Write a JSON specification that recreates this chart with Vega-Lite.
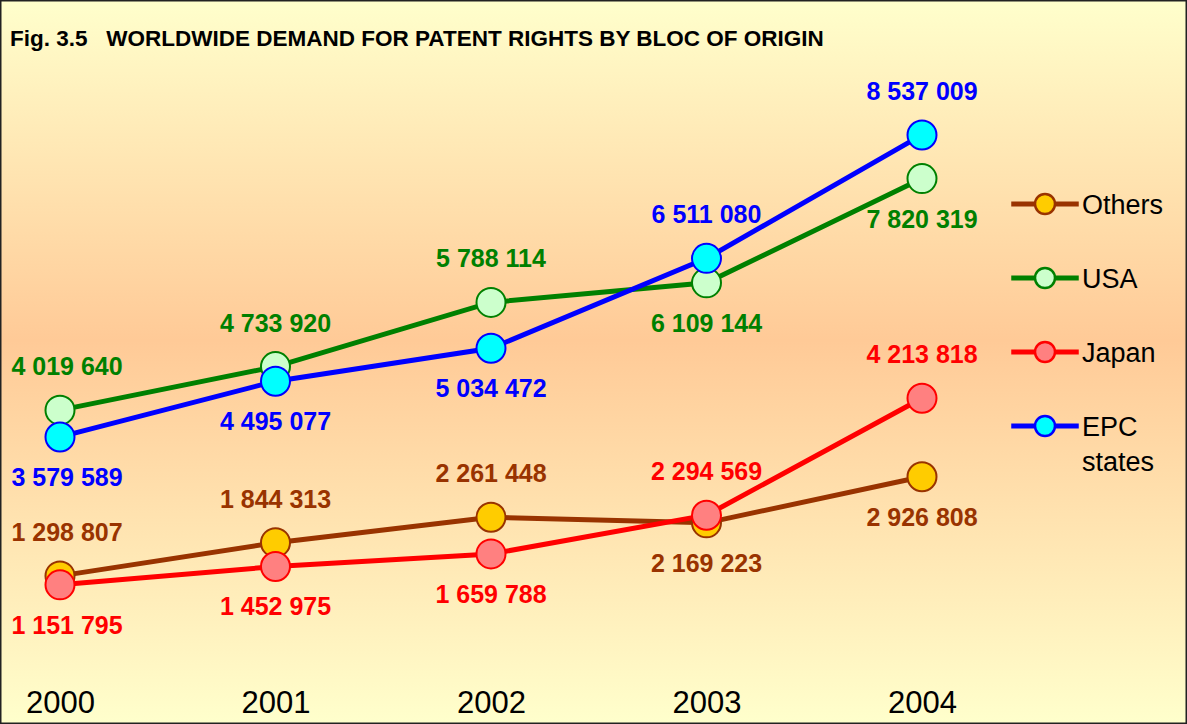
{
  "$schema": "https://vega.github.io/schema/vega-lite/v6.json",
  "width": 1187,
  "height": 724,
  "autosize": {"type": "none"},
  "padding": 0,
  "background": "#FFFFCC",
  "config": {
    "font": "Liberation Sans",
    "view": {
      "fill": {"gradient": "linear", "x1": 0, "y1": 0, "x2": 0, "y2": 1,
        "stops": [{"offset": 0, "color": "#FFFFCC"}, {"offset": 0.47, "color": "#FFCA97"}, {"offset": 1, "color": "#FFFFCC"}]},
      "stroke": "#222222",
      "strokeWidth": 3
    },
    "locale": {"number": {"decimal": ".", "thousands": " ", "grouping": [3], "currency": ["", ""]}},
    "legend": {
      "title": null,
      "orient": "none",
      "legendX": 1031.5,
      "legendY": 190.5,
      "padding": 0,
      "symbolType": "M-3.25,-0.125H-1V0.125H-3.25Z M1,-0.125H3.25V0.125H1Z M1,0A1,1,0,1,1,-1,0A1,1,0,1,1,1,0Z",
      "symbolSize": 400,
      "symbolStrokeWidth": 2.5,
      "labelFontSize": 27,
      "labelFont": "Liberation Sans",
      "labelColor": "#000000",
      "labelOffset": 23.5,
      "rowPadding": 43,
      "labelBaseline": "alphabetic"
    }
  },
  "title": {
    "text": "Fig. 3.5\u00a0\u00a0 WORLDWIDE DEMAND FOR PATENT RIGHTS BY BLOC OF ORIGIN",
    "anchor": "start",
    "frame": "group",
    "orient": "top",
    "offset": -68,
    "dx": 10,
    "fontSize": 22.5,
    "fontWeight": "bold",
    "color": "#000000",
    "baseline": "alphabetic"
  },
  "data": {
    "values": [
      {"series": "Others", "year": 2000, "value": 1298807},
      {"series": "Others", "year": 2001, "value": 1844313},
      {"series": "Others", "year": 2002, "value": 2261448},
      {"series": "Others", "year": 2003, "value": 2169223},
      {"series": "Others", "year": 2004, "value": 2926808},
      {"series": "USA", "year": 2000, "value": 4019640},
      {"series": "USA", "year": 2001, "value": 4733920},
      {"series": "USA", "year": 2002, "value": 5788114},
      {"series": "USA", "year": 2003, "value": 6109144},
      {"series": "USA", "year": 2004, "value": 7820319},
      {"series": "Japan", "year": 2000, "value": 1151795},
      {"series": "Japan", "year": 2001, "value": 1452975},
      {"series": "Japan", "year": 2002, "value": 1659788},
      {"series": "Japan", "year": 2003, "value": 2294569},
      {"series": "Japan", "year": 2004, "value": 4213818},
      {"series": "EPC states", "year": 2000, "value": 3579589},
      {"series": "EPC states", "year": 2001, "value": 4495077},
      {"series": "EPC states", "year": 2002, "value": 5034472},
      {"series": "EPC states", "year": 2003, "value": 6511080},
      {"series": "EPC states", "year": 2004, "value": 8537009}
    ]
  },
  "encoding": {
    "x": {
      "field": "year", "type": "quantitative",
      "scale": {"domain": [1999.7216, 2005.2297], "nice": false, "zero": false},
      "axis": {"values": [2000, 2001, 2002, 2003, 2004], "format": "d", "title": null, "domain": false, "ticks": false, "tickSize": 0, "grid": false,
        "labelFontSize": 31, "labelColor": "#000000", "labelFont": "Liberation Sans", "offset": -21, "labelPadding": 0, "labelBaseline": "middle", "labelFlush": false, "labelOverlap": false}
    },
    "y": {
      "field": "value", "type": "quantitative",
      "scale": {"domain": [-1132600, 10752000], "nice": false, "zero": false},
      "axis": null
    }
  },
  "layer": [
    {
      "mark": {"type": "line", "strokeWidth": 5},
      "encoding": {
        "stroke": {"field": "series", "type": "nominal",
          "scale": {"domain": ["Others", "USA", "Japan", "EPC states"], "range": ["#993300", "#008000", "#FF0000", "#0000FF"]},
          "legend": {"labelExpr": "datum.label == 'EPC states' ? ['EPC','states'] : datum.label", "encode": {"labels": {"update": {"dy": {"value": 10}, "lineHeight": {"value": 35}}}}}
        }
      }
    },
    {
      "mark": {"type": "point", "filled": true, "size": 841, "strokeWidth": 2, "opacity": 1},
      "encoding": {
        "fill": {"field": "series", "type": "nominal",
          "scale": {"domain": ["Others", "USA", "Japan", "EPC states"], "range": ["#FFCC00", "#CCFFCC", "#FF8080", "#00FFFF"]},
          "legend": {"labelExpr": "datum.label == 'EPC states' ? ['EPC','states'] : datum.label", "encode": {"labels": {"update": {"dy": {"value": 10}, "lineHeight": {"value": 35}}}}}
        },
        "stroke": {"field": "series", "type": "nominal"}
      }
    },
    {
      "transform": [{"filter": "((indexof(['EPC states','Japan'], datum.series) >= 0 && datum.year >= 2003) || (indexof(['USA','Others'], datum.series) >= 0 && datum.year <= 2002)) && datum.year != 2000"}],
      "mark": {"type": "text", "fontSize": 25, "fontWeight": "bold", "baseline": "middle", "dy": -43},
      "encoding": {
        "text": {"field": "value", "type": "quantitative", "format": ",d"},
        "color": {"field": "series", "type": "nominal", "scale": {"domain": ["Others", "USA", "Japan", "EPC states"], "range": ["#993300", "#008000", "#FF0000", "#0000FF"]}, "legend": null}
      }
    },
    {
      "transform": [{"filter": "((indexof(['EPC states','Japan'], datum.series) >= 0 && datum.year >= 2003) || (indexof(['USA','Others'], datum.series) >= 0 && datum.year <= 2002)) && datum.year == 2000"}],
      "mark": {"type": "text", "fontSize": 25, "fontWeight": "bold", "baseline": "middle", "dy": -43, "dx": 7},
      "encoding": {
        "text": {"field": "value", "type": "quantitative", "format": ",d"},
        "color": {"field": "series", "type": "nominal", "scale": {"domain": ["Others", "USA", "Japan", "EPC states"], "range": ["#993300", "#008000", "#FF0000", "#0000FF"]}, "legend": null}
      }
    },
    {
      "transform": [{"filter": "!((indexof(['EPC states','Japan'], datum.series) >= 0 && datum.year >= 2003) || (indexof(['USA','Others'], datum.series) >= 0 && datum.year <= 2002)) && datum.year != 2000"}],
      "mark": {"type": "text", "fontSize": 25, "fontWeight": "bold", "baseline": "middle", "dy": 41},
      "encoding": {
        "text": {"field": "value", "type": "quantitative", "format": ",d"},
        "color": {"field": "series", "type": "nominal", "scale": {"domain": ["Others", "USA", "Japan", "EPC states"], "range": ["#993300", "#008000", "#FF0000", "#0000FF"]}, "legend": null}
      }
    },
    {
      "transform": [{"filter": "!((indexof(['EPC states','Japan'], datum.series) >= 0 && datum.year >= 2003) || (indexof(['USA','Others'], datum.series) >= 0 && datum.year <= 2002)) && datum.year == 2000"}],
      "mark": {"type": "text", "fontSize": 25, "fontWeight": "bold", "baseline": "middle", "dy": 41, "dx": 7},
      "encoding": {
        "text": {"field": "value", "type": "quantitative", "format": ",d"},
        "color": {"field": "series", "type": "nominal", "scale": {"domain": ["Others", "USA", "Japan", "EPC states"], "range": ["#993300", "#008000", "#FF0000", "#0000FF"]}, "legend": null}
      }
    }
  ]
}
